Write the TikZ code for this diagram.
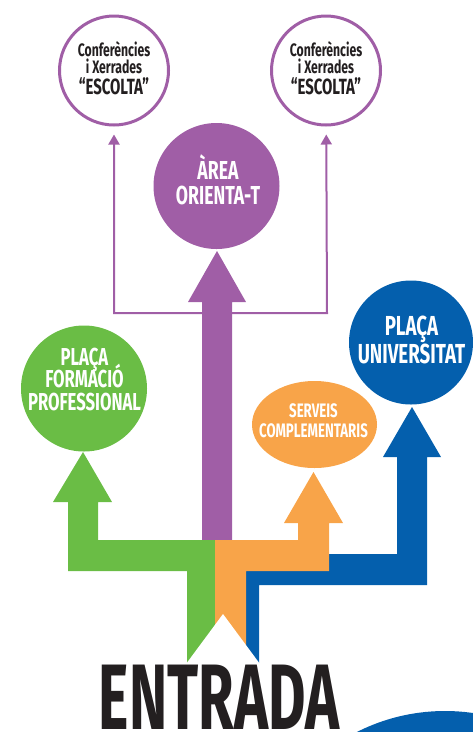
\documentclass[tikz,border=0pt]{standalone}
\usepackage{fontspec}
\setmainfont{Fira Sans}[FakeStretch=0.68]
\newfontfamily\estreta{Fira Sans}[FakeStretch=0.62]
\usetikzlibrary{arrows.meta, shapes.geometric}
\definecolor{lila}{RGB}{160,94,166}
\definecolor{verd}{RGB}{106,189,69}
\definecolor{taronja}{RGB}{248,164,73}
\definecolor{blau}{RGB}{4,95,173}
\definecolor{negre}{RGB}{35,31,32}
\newcommand{\mida}[2]{\fontsize{#1}{#2}\selectfont\bfseries\lineskiplimit=-100pt\lineskip=0pt}
\tikzset{
  anella/.style={circle, draw=lila, line width=3pt, minimum size=109pt, inner sep=0pt},
  bola/.style={circle, minimum size=126pt, inner sep=0pt},
  rotul/.style={align=center, anchor=base, inner sep=0pt, text=white},
  fletxeta/.style={draw=lila, line width=2pt, {Triangle[width=11pt,length=10pt]}-{Triangle[width=11pt,length=10pt]}, shorten <=8pt, shorten >=8pt},
}

\begin{document}
\begin{tikzpicture}[x=1pt, y=-1pt]
\useasboundingbox (0,0) rectangle (473,732);

% taca blava a baix
\begin{scope}
\clip (0,0) rectangle (473,732);
\fill[blau] (445,906) circle (195pt);
\end{scope}

% cercles
\node[anella] (conf1) at (114,70.5) {};
\node[anella] (conf2) at (326,70.5) {};
\node[bola, fill=lila] (area) at (216.5,186) {};
\node[bola, fill=verd] (fp) at (84,388.5) {};
\node[bola, fill=blau, minimum size=124pt] (univ) at (411,342.5) {};
\node[ellipse, fill=taronja, minimum width=125pt, minimum height=87pt, inner sep=0pt] (serveis) at (314.5,424.5) {};

% fletxes fines
\coordinate (ce) at (114,313);
\coordinate (cd) at (327,313);
\draw[fletxeta, line join=miter] (conf1) -- (ce) -- (cd) -- (conf2);

% fletxes gruixudes
\fill[lila] (202,541) -- (202,302) -- (188,302) -- (217,251) -- (246,302) -- (232,302) -- (232,541) -- cycle;
\fill[verd] (215,540) -- (98,540) -- (98,502) -- (112,502) -- (83,452) -- (53,502) -- (68,502) -- (68,571) -- (187,571) -- (187,663) -- (215,663) -- cycle;
\fill[blau] (246,571) -- (329,571) -- (329,554) -- (397,554) -- (397,457) -- (383,457) -- (412,407) -- (441,457) -- (427,457) -- (427,585) -- (259,585) -- (259,663) -- (246,663) -- cycle;
\fill[taronja] (215,540) -- (298,540) -- (298,523) -- (284,523) -- (313.5,472) -- (343,523) -- (329,523) -- (329,571) -- (246,571) -- (246,663) -- (215,663) -- cycle;
\fill[white] (186,664) -- (223,614) -- (260,664) -- cycle;

% textos
\node[rotul, text=negre, font=\mida{18}{17}] (t1) at (114,73) {Conferències\\ i Xerrades};
\node[rotul, text=negre, font=\mida{22}{24}] (e1) at (114,94.5) {“ESCOLTA”};
\node[rotul, text=negre, font=\mida{18}{17}] (t2) at (326,73) {Conferències\\ i Xerrades};
\node[rotul, text=negre, font=\mida{22}{24}] (e2) at (326,94.5) {“ESCOLTA”};
\node[rotul, font=\mida{26}{25}] (tarea) at (218,204.5) {ÀREA\\ ORIENTA-T};
\node[rotul, font=\mida{24.5}{22.5}] (tfp) at (84.5,410) {PLAÇA\\ FORMACIÓ\\ PROFESSIONAL};
\node[rotul, font=\mida{27.5}{28}] (tuniv) at (411.5,363.5) {PLAÇA\\ UNIVERSITAT};
\node[rotul, font=\mida{19.5}{20}] (tserv) at (313.5,437) {SERVEIS\\ COMPLEMENTARIS};
\node[rotul, text=negre, font=\estreta\mida{93}{93}] (entrada) at (219,729) {ENTRADA};
\end{tikzpicture}
\end{document}
